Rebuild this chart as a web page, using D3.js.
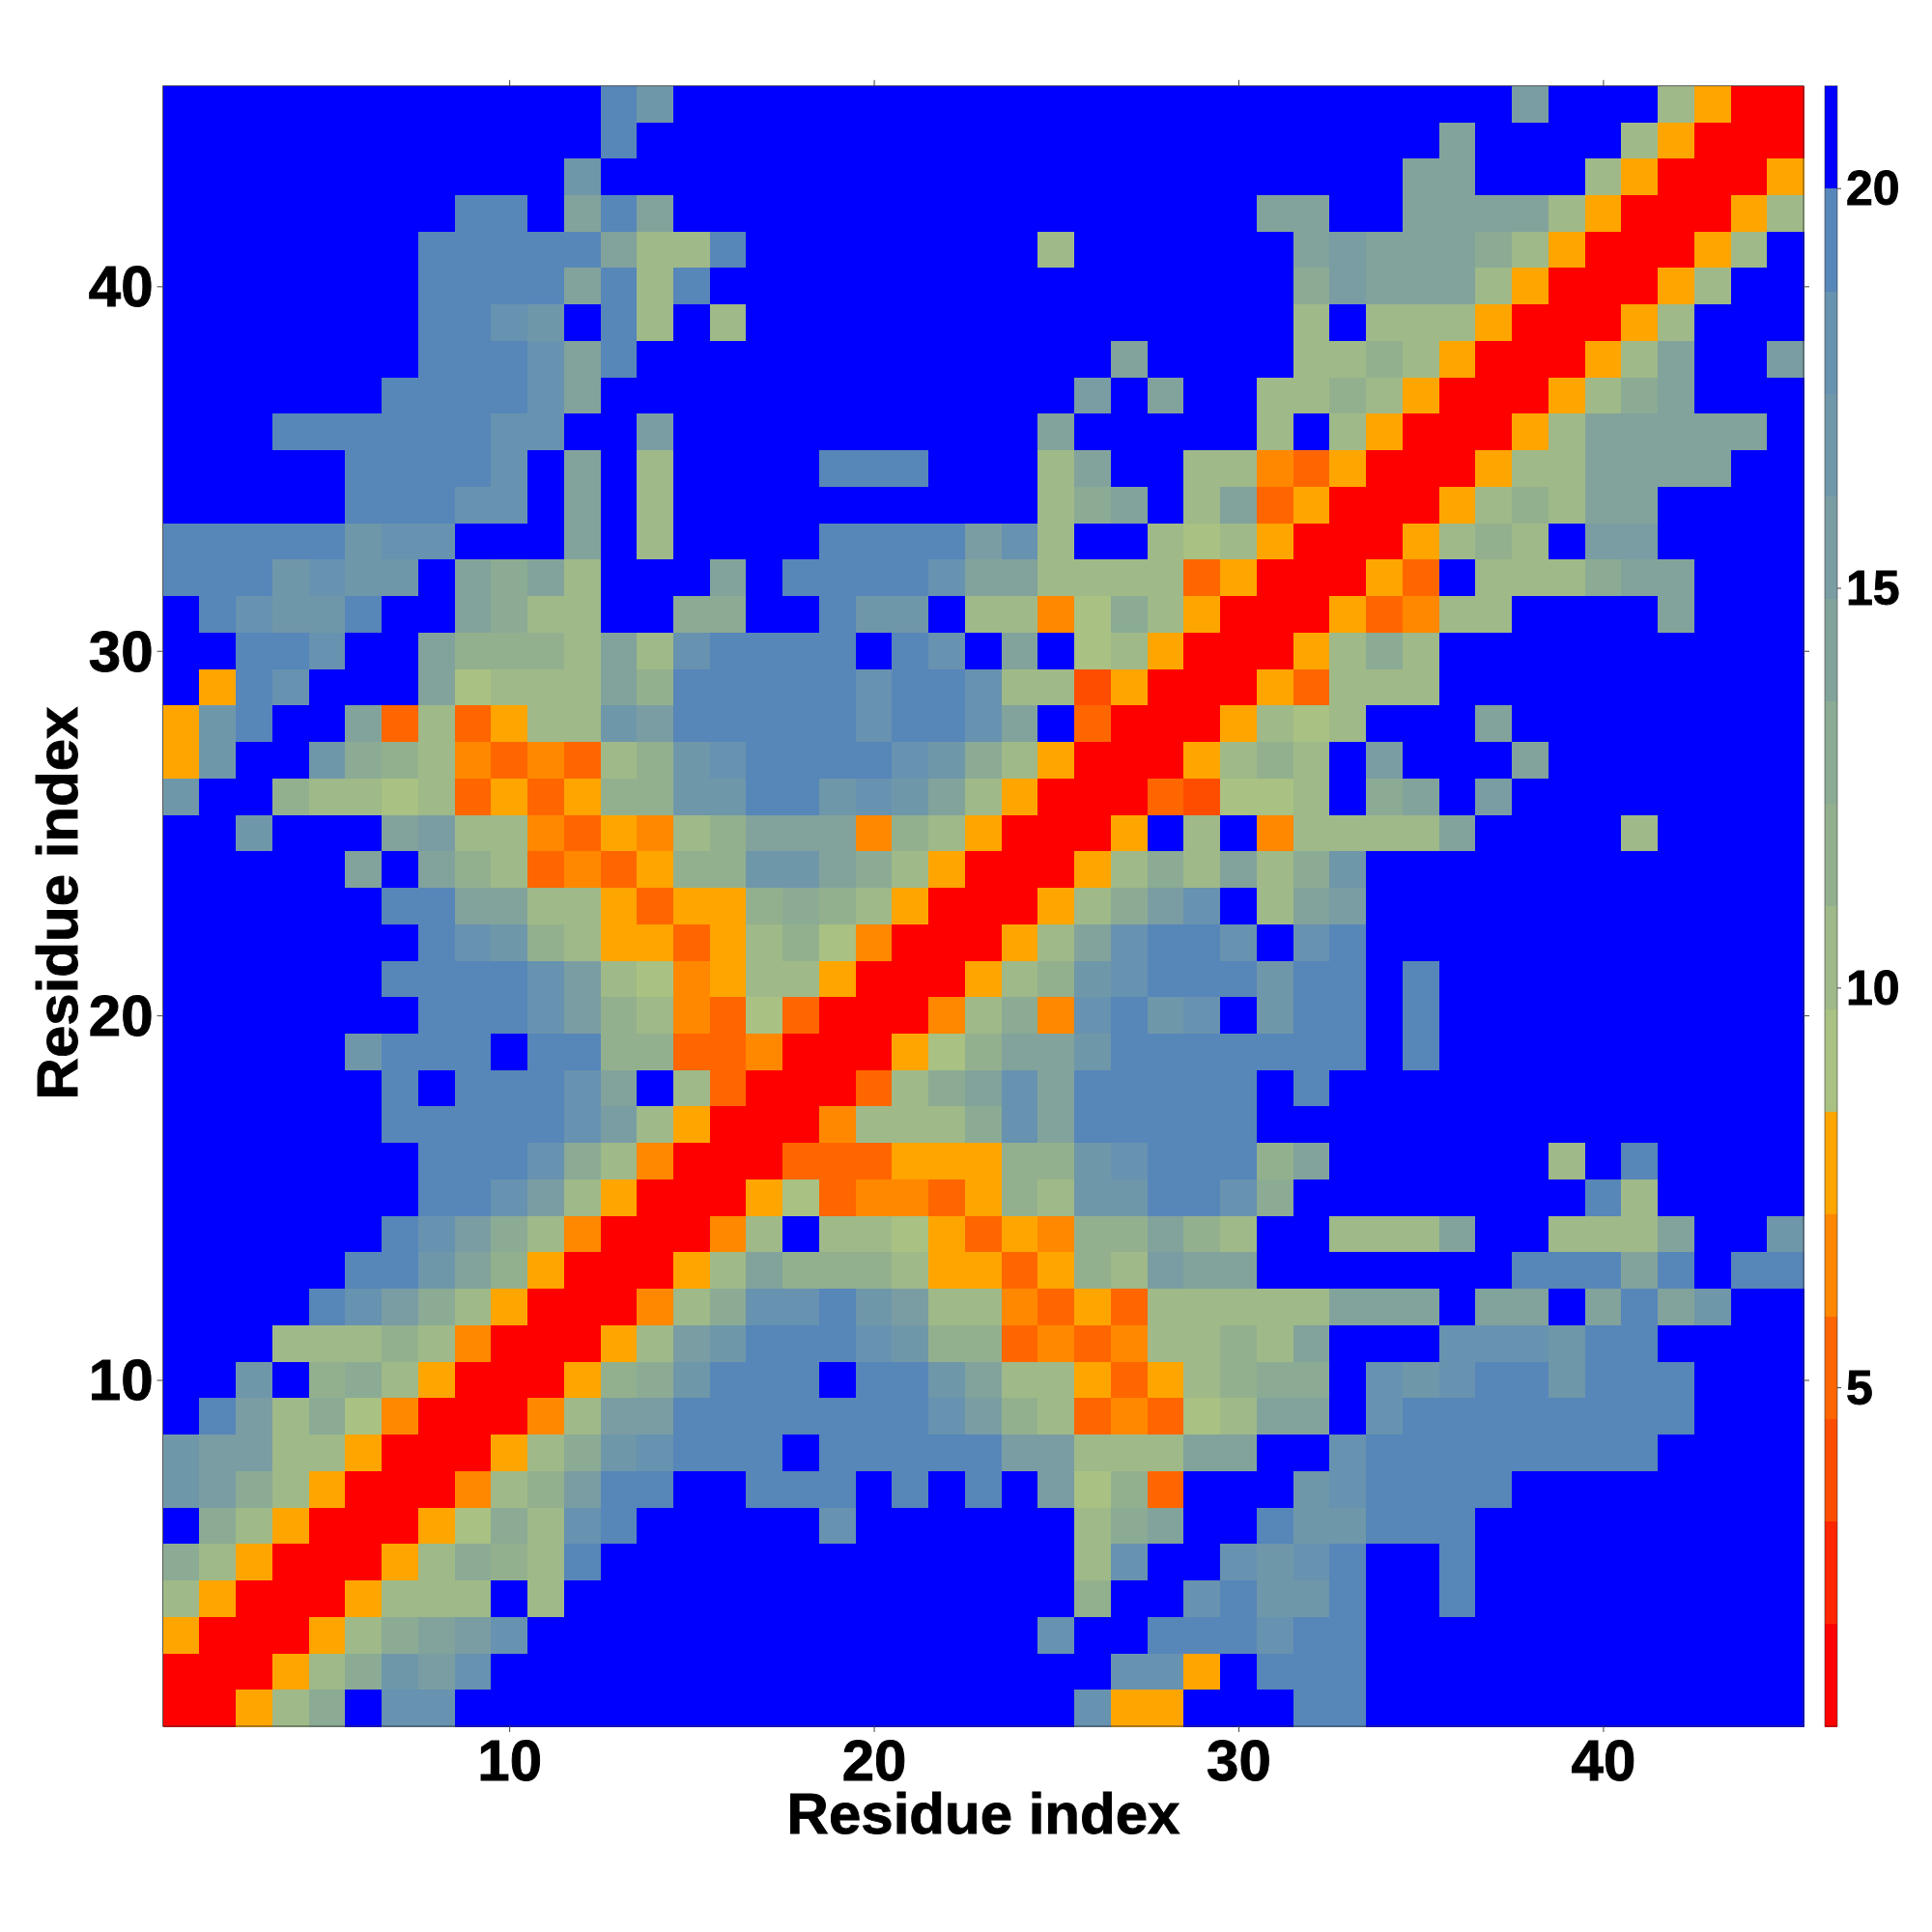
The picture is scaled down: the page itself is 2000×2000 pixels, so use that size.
<!DOCTYPE html>
<html><head><meta charset="utf-8">
<style>html,body{margin:0;padding:0;background:#fff}svg{display:block}
text{font-family:"Liberation Sans",Arial,sans-serif;font-weight:700;fill:#000;stroke:#000;stroke-width:0.9px}</style>
<script src="https://cdn.jsdelivr.net/npm/d3@7"></script></head><body>
<svg id="c" width="2000" height="2000"></svg>
<script>
// Distance between residue pairs; rows listed from residue 45 (top) down to residue 1.
const residuesY = d3.range(45, 0, -1);
const residuesX = d3.range(1, 46);
const distances = [
[21,21,21,21,21,21,21,21,21,21,21,21,19,17,21,21,21,21,21,21,21,21,21,21,21,21,21,21,21,21,21,21,21,21,21,21,21,15,21,21,21,10,8,1,1],
[21,21,21,21,21,21,21,21,21,21,21,21,19,21,21,21,21,21,21,21,21,21,21,21,21,21,21,21,21,21,21,21,21,21,21,14,21,21,21,21,10,8,1,1,1],
[21,21,21,21,21,21,21,21,21,21,21,17,21,21,21,21,21,21,21,21,21,21,21,21,21,21,21,21,21,21,21,21,21,21,14,14,21,21,21,10,8,1,1,1,8],
[21,21,21,21,21,21,21,21,19,19,21,14,19,14,21,21,21,21,21,21,21,21,21,21,21,21,21,21,21,21,14,14,21,21,14,14,14,14,10,8,1,1,1,8,10],
[21,21,21,21,21,21,21,19,19,19,19,19,14,10,10,19,21,21,21,21,21,21,21,21,10,21,21,21,21,21,21,14,15,14,14,14,13,10,8,1,1,1,8,10,21],
[21,21,21,21,21,21,21,19,19,19,19,14,19,10,19,21,21,21,21,21,21,21,21,21,21,21,21,21,21,21,21,13,15,14,14,14,10,8,1,1,1,8,10,21,21],
[21,21,21,21,21,21,21,19,19,18,17,21,19,10,21,10,21,21,21,21,21,21,21,21,21,21,21,21,21,21,21,10,21,10,10,10,8,1,1,1,8,10,21,21,21],
[21,21,21,21,21,21,21,19,19,19,18,14,19,21,21,21,21,21,21,21,21,21,21,21,21,21,14,21,21,21,21,10,10,12,10,8,1,1,1,8,10,14,21,21,15],
[21,21,21,21,21,21,19,19,19,19,18,14,21,21,21,21,21,21,21,21,21,21,21,21,21,15,21,14,21,21,10,10,12,10,8,1,1,1,8,10,13,14,21,21,21],
[21,21,21,19,19,19,19,19,19,18,18,21,21,15,21,21,21,21,21,21,21,21,21,21,14,21,21,21,21,21,10,21,10,8,1,1,1,8,10,14,14,14,14,14,21],
[21,21,21,21,21,19,19,19,19,18,21,14,21,10,21,21,21,21,19,19,19,21,21,21,10,14,21,21,10,10,6,5,8,1,1,1,8,10,10,14,14,14,14,21,21],
[21,21,21,21,21,19,19,19,18,18,21,14,21,10,21,21,21,21,21,21,21,21,21,21,10,13,14,21,10,14,5,8,1,1,1,8,10,12,10,14,14,21,21,21,21],
[19,19,19,19,19,17,18,18,21,21,21,14,21,10,21,21,21,21,19,19,19,19,15,18,10,21,21,10,9,10,8,1,1,1,8,10,12,10,21,15,15,21,21,21,21],
[19,19,19,17,18,17,17,21,14,13,14,10,21,21,21,14,21,19,19,19,19,18,14,14,10,10,10,10,5,8,1,1,1,8,5,21,10,10,10,13,14,14,21,21,21],
[21,19,18,17,17,19,21,21,14,13,10,10,21,21,13,13,21,21,19,17,17,21,10,10,6,9,13,10,8,1,1,1,8,5,6,10,10,21,21,21,21,14,21,21,21],
[21,21,19,19,18,21,21,14,12,12,12,10,14,10,18,19,19,19,19,21,19,18,21,14,21,9,10,8,1,1,1,8,10,13,10,21,21,21,21,21,21,21,21,21,21],
[21,8,19,18,21,21,21,14,9,10,10,10,14,12,19,19,19,19,19,18,19,19,18,10,10,4,8,1,1,1,8,5,10,10,10,21,21,21,21,21,21,21,21,21,21],
[8,17,19,21,21,14,5,10,5,8,10,10,17,15,19,19,19,19,19,18,19,19,18,14,21,5,1,1,1,8,10,9,10,21,21,21,14,21,21,21,21,21,21,21,21],
[8,17,21,21,17,13,12,10,6,5,6,5,10,12,17,18,19,19,19,19,18,17,13,10,8,1,1,1,8,10,12,10,21,15,21,21,21,14,21,21,21,21,21,21,21],
[17,21,21,12,10,10,9,10,5,8,5,8,12,12,17,17,19,19,17,18,17,14,10,8,1,1,1,5,4,9,9,10,21,13,14,21,15,21,21,21,21,21,21,21,21],
[21,21,17,21,21,21,14,15,10,10,6,5,8,6,10,12,14,14,14,6,12,10,8,1,1,1,8,21,10,21,6,10,10,10,10,14,21,21,21,21,10,21,21,21,21],
[21,21,21,21,21,14,21,14,12,10,5,6,5,8,12,12,17,17,14,13,10,8,1,1,1,8,10,13,10,14,10,13,17,21,21,21,21,21,21,21,21,21,21,21,21],
[21,21,21,21,21,21,19,19,14,14,10,10,8,5,8,8,12,13,12,10,8,1,1,1,8,10,13,15,18,21,10,14,15,21,21,21,21,21,21,21,21,21,21,21,21],
[21,21,21,21,21,21,21,19,18,17,12,10,8,8,5,8,10,12,9,6,1,1,1,8,10,14,18,19,19,18,21,18,19,21,21,21,21,21,21,21,21,21,21,21,21],
[21,21,21,21,21,21,19,19,19,19,18,15,10,9,6,8,10,10,8,1,1,1,8,10,12,17,18,19,19,19,17,19,19,21,19,21,21,21,21,21,21,21,21,21,21],
[21,21,21,21,21,21,21,19,19,19,18,15,12,10,6,5,9,5,1,1,1,6,10,13,6,18,19,17,18,21,17,19,19,21,19,21,21,21,21,21,21,21,21,21,21],
[21,21,21,21,21,17,19,19,19,21,19,19,12,12,5,5,6,1,1,1,8,9,12,14,14,17,19,19,19,19,19,19,19,21,19,21,21,21,21,21,21,21,21,21,21],
[21,21,21,21,21,21,19,21,19,19,19,18,14,21,10,5,1,1,1,5,10,13,14,18,14,19,19,19,19,19,21,19,21,21,21,21,21,21,21,21,21,21,21,21,21],
[21,21,21,21,21,21,19,19,19,19,19,18,15,10,8,1,1,1,6,10,10,10,13,18,14,19,19,19,19,19,21,21,21,21,21,21,21,21,21,21,21,21,21,21,21],
[21,21,21,21,21,21,21,19,19,19,18,13,10,6,1,1,1,5,5,5,8,8,8,12,12,17,18,19,19,19,12,14,21,21,21,21,21,21,10,21,19,21,21,21,21],
[21,21,21,21,21,21,21,19,19,18,15,10,8,1,1,1,8,9,5,6,6,5,8,12,10,17,17,19,19,18,13,21,21,21,21,21,21,21,21,19,10,21,21,21,21],
[21,21,21,21,21,21,19,18,15,13,10,6,1,1,1,6,10,21,10,10,9,8,5,8,6,12,12,14,12,10,21,21,10,10,10,14,21,21,10,10,10,14,21,21,17],
[21,21,21,21,21,19,19,17,14,12,8,1,1,1,8,10,14,12,12,12,10,8,8,5,8,12,10,15,14,14,21,21,21,21,21,21,21,19,19,19,14,19,21,19,19],
[21,21,21,21,19,18,15,13,10,8,1,1,1,6,10,13,18,18,19,17,15,10,10,6,5,8,5,10,10,10,10,10,14,14,14,21,14,14,21,14,19,14,17,21,21],
[21,21,21,10,10,10,12,10,6,1,1,1,8,10,15,17,19,19,19,18,17,12,12,5,6,5,6,10,10,12,10,14,21,21,21,18,18,18,17,19,19,21,21,21,21],
[21,21,17,21,12,13,10,8,1,1,1,8,12,13,17,19,19,19,21,19,19,17,14,10,10,8,5,8,10,12,13,13,21,18,17,18,19,19,17,19,19,19,21,21,21],
[21,19,15,10,13,9,6,1,1,1,6,10,15,15,19,19,19,19,19,19,19,18,15,12,10,5,6,5,9,10,14,14,21,18,19,19,19,19,19,19,19,19,21,21,21],
[17,15,15,10,10,8,1,1,1,8,10,13,17,18,19,19,19,21,19,19,19,19,19,15,15,10,10,10,14,14,21,21,18,19,19,19,19,19,19,19,19,21,21,21,21],
[17,15,13,10,8,1,1,1,6,10,12,15,19,19,21,21,19,19,19,21,19,21,19,21,15,9,12,5,21,21,21,17,18,19,19,19,19,21,21,21,21,21,21,21,21],
[21,13,10,8,1,1,1,8,9,13,10,18,19,21,21,21,21,21,18,21,21,21,21,21,21,10,13,14,21,21,19,17,17,19,19,19,21,21,21,21,21,21,21,21,21],
[13,10,8,1,1,1,8,10,13,12,10,19,21,21,21,21,21,21,21,21,21,21,21,21,21,10,18,21,21,18,17,18,19,21,21,19,21,21,21,21,21,21,21,21,21],
[10,8,1,1,1,8,10,10,10,21,10,21,21,21,21,21,21,21,21,21,21,21,21,21,21,12,21,21,18,19,17,17,19,21,21,19,21,21,21,21,21,21,21,21,21],
[8,1,1,1,8,10,13,14,15,18,21,21,21,21,21,21,21,21,21,21,21,21,21,21,18,21,21,19,19,19,18,19,19,21,21,21,21,21,21,21,21,21,21,21,21],
[1,1,1,8,10,13,17,15,18,21,21,21,21,21,21,21,21,21,21,21,21,21,21,21,21,21,18,18,8,21,19,19,19,21,21,21,21,21,21,21,21,21,21,21,21],
[1,1,8,10,13,21,18,18,21,21,21,21,21,21,21,21,21,21,21,21,21,21,21,21,21,18,8,8,21,21,21,19,19,21,21,21,21,21,21,21,21,21,21,21,21]
];
const axisTicks = [10, 20, 30, 40];
const barTicks = [5, 10, 15, 20];
const axisTitle = "Residue index";
const valueDomain = [0.76, 21.28];
const palette = ["#ff0000","#ff2600","#ff4d00","#ff6600","#ff8800","#ffa500",
  "#a9c182","#9fb988","#93b08e","#8bab94","#82a39b","#7a9da3","#6f97aa","#6792b0","#5786b9","#0000ff"];

distances.forEach((r,i)=>{ if(r.length!==45) throw new Error("row "+i+" has "+r.length); });
if(distances.length!==45) throw new Error("rows "+distances.length);

const svg = d3.select("#c");
const L=168.6,R=1867,T=88.8,B=1787;
const x = d3.scaleLinear().domain([0.5,45.5]).range([L,R]);
const y = d3.scaleLinear().domain([0.5,45.5]).range([B,T]);
const color = d3.scaleQuantize().domain(valueDomain).range(palette);

const cells = residuesY.flatMap((ry,i)=>residuesX.map((rx,j)=>({rx,ry,v:distances[i][j]})));
svg.append("g").attr("shape-rendering","crispEdges").selectAll("rect").data(cells).join("rect")
  .attr("x",d=>x(d.rx-0.5)).attr("y",d=>y(d.ry+0.5))
  .attr("width",d=>x(d.rx+0.5)-x(d.rx-0.5)+0.5).attr("height",d=>y(d.ry-0.5)-y(d.ry+0.5)+0.5)
  .attr("fill",d=>color(d.v));
svg.append("rect").attr("x",L).attr("y",T).attr("width",R-L).attr("height",B-T)
  .attr("fill","none").attr("stroke","#333").attr("stroke-width",0.8);

function style(g,size){
  g.select(".domain").remove();
  g.selectAll(".tick line").attr("stroke","#444").attr("stroke-width",1);
  g.selectAll("text").style("font-size",size+"px").style("font-weight",700);
}
const axes=[
 [d3.axisBottom(x),`translate(0,${B})`,true,7],
 [d3.axisTop(x),`translate(0,${T})`,false,7],
 [d3.axisLeft(y),`translate(${L},0)`,true,4],
 [d3.axisRight(y),`translate(${R},0)`,false,5]];
axes.forEach(([a,t,lab,pad],k)=>{
  const g=svg.append("g").attr("transform",t)
    .call(a.tickValues(axisTicks).tickSize(6).tickPadding(pad).tickFormat(lab?d3.format("d"):""));
  style(g,60);
  if(k===2) g.selectAll("text").attr("dy","0.34em");
});
svg.append("text").attr("x",1018).attr("y",1898).attr("text-anchor","middle").style("font-size","60px").text(axisTitle);
svg.append("text").attr("transform","translate(80,935) rotate(-90)").attr("text-anchor","middle").style("font-size","60px").text(axisTitle);

// colour bar
const CL=1889,CR=1902;
const cy=d3.scaleLinear().domain(valueDomain).range([B,T]);
const edges=[valueDomain[0],...color.thresholds(),valueDomain[1]];
svg.append("g").attr("shape-rendering","crispEdges").selectAll("rect").data(palette).join("rect")
  .attr("x",CL).attr("width",CR-CL)
  .attr("y",(c,i)=>cy(edges[i+1])).attr("height",(c,i)=>cy(edges[i])-cy(edges[i+1])+0.5)
  .attr("fill",c=>c);
svg.append("rect").attr("x",CL).attr("y",T).attr("width",CR-CL).attr("height",B-T)
  .attr("fill","none").attr("stroke","#333").attr("stroke-opacity",0.7).attr("stroke-width",0.8);
const cg=svg.append("g").attr("transform",`translate(${CR},0)`)
  .call(d3.axisRight(cy).tickValues(barTicks).tickSize(4).tickPadding(5).tickFormat(d3.format("d")));
style(cg,50);
cg.selectAll("text").attr("dy","0.34em");
</script></body></html>
